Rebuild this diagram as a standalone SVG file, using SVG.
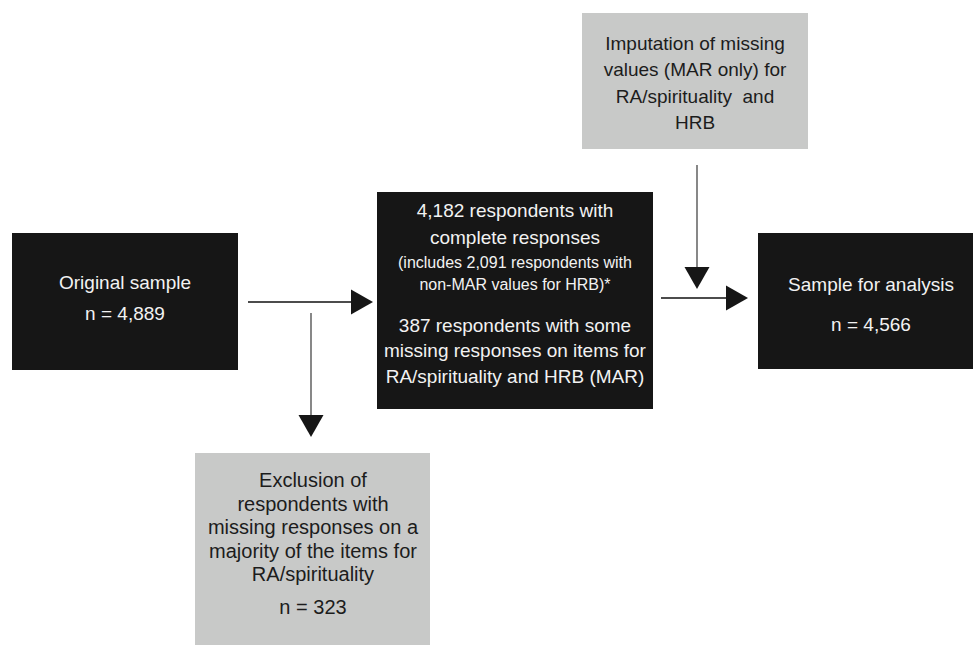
<svg xmlns="http://www.w3.org/2000/svg" width="973" height="646" viewBox="0 0 973 646">
  <style>
    .dark { fill: #161616; }
    .light { fill: #c8c9c8; }
    .wt { fill: #f2f2f2; font-family: "Liberation Sans", Arial, sans-serif; font-size: 19px; text-anchor: middle; }
    .wts { fill: #f2f2f2; font-family: "Liberation Sans", Arial, sans-serif; font-size: 16px; text-anchor: middle; }
    .bt { fill: #1c1c1c; font-family: "Liberation Sans", Arial, sans-serif; font-size: 19px; text-anchor: middle; }
    .bt20 { fill: #1c1c1c; font-family: "Liberation Sans", Arial, sans-serif; font-size: 20px; text-anchor: middle; }
    .hline { stroke: #111111; stroke-width: 1.3; fill: none; }
    .vline { stroke: #6a6a6a; stroke-width: 1.6; fill: none; }
  </style>
  <defs>
    <marker id="arrow" markerUnits="userSpaceOnUse" markerWidth="23" markerHeight="26" refX="0" refY="12.5" orient="auto" overflow="visible">
      <path d="M0,0 L22,12.5 L0,25 Z" fill="#161616"/>
    </marker>
  </defs>
  <rect width="973" height="646" fill="#ffffff"/>

  <g id="connectors">
    <line class="hline" x1="248" y1="302" x2="351" y2="302" marker-end="url(#arrow)"/>
    <line class="vline" x1="311" y1="313" x2="311" y2="415" marker-end="url(#arrow)"/>
    <line class="vline" x1="697" y1="165" x2="697" y2="267" marker-end="url(#arrow)"/>
    <line class="hline" x1="661" y1="298" x2="726" y2="298" marker-end="url(#arrow)"/>
  </g>

  <g id="original-sample">
    <rect class="dark" x="12" y="233" width="226" height="137"/>
    <text class="wt" x="125" y="289">Original sample</text>
    <text class="wt" x="125" y="320">n = 4,889</text>
  </g>

  <g id="responses">
    <rect class="dark" x="377" y="192" width="276" height="217"/>
    <text class="wt" x="515" y="217">4,182 respondents with</text>
    <text class="wt" x="515" y="244">complete responses</text>
    <text class="wts" x="515" y="268">(includes 2,091 respondents with</text>
    <text class="wts" x="515" y="290">non-MAR values for HRB)*</text>
    <text class="wt" x="515" y="332">387 respondents with some</text>
    <text class="wt" x="515" y="357">missing responses on items for</text>
    <text class="wt" x="515" y="383">RA/spirituality and HRB (MAR)</text>
  </g>

  <g id="imputation">
    <rect class="light" x="582" y="13" width="226" height="136"/>
    <text class="bt" x="695" y="50">Imputation of missing</text>
    <text class="bt" x="695" y="76">values (MAR only) for</text>
    <text class="bt" x="695" y="103" xml:space="preserve">RA/spirituality  and</text>
    <text class="bt" x="695" y="129">HRB</text>
  </g>

  <g id="sample-for-analysis">
    <rect class="dark" x="758" y="233" width="226" height="136"/>
    <text class="wt" x="871" y="291">Sample for analysis</text>
    <text class="wt" x="871" y="331">n = 4,566</text>
  </g>

  <g id="exclusion">
    <rect class="light" x="195" y="453" width="235" height="192"/>
    <text class="bt20" x="313" y="487">Exclusion of</text>
    <text class="bt20" x="313" y="511">respondents with</text>
    <text class="bt20" x="313" y="534">missing responses on a</text>
    <text class="bt20" x="313" y="558">majority of the items for</text>
    <text class="bt20" x="313" y="581">RA/spirituality</text>
    <text class="bt20" x="313" y="614">n = 323</text>
  </g>
</svg>
